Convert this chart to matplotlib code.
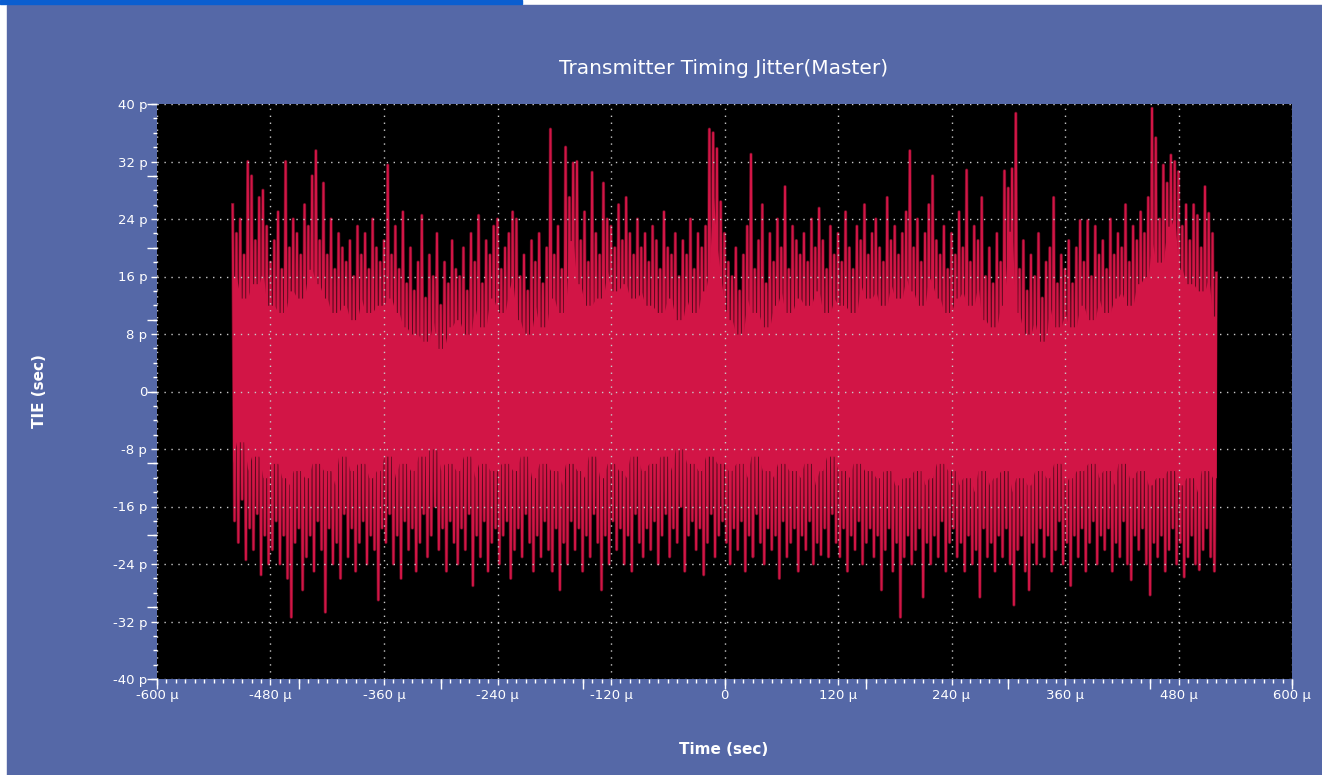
import matplotlib
matplotlib.use('Agg')
import matplotlib.pyplot as plt
import matplotlib.patheffects as pe
from matplotlib.patches import Rectangle
from matplotlib.ticker import MultipleLocator, FuncFormatter
import numpy as np

# TIE record: a high and a low sample every 4 us, from -520 us to +520 us
t_first, t_step = -520, 4

# local maxima of the trace (ps)
peak_hi = [
    26, 22, 24, 19, 32, 30, 21, 27, 28, 23,
    18, 21, 25, 17, 32, 20, 24, 22, 19, 26,
    23, 30, 33.5, 21, 29, 19, 24, 17, 22, 20,
    18, 21, 16, 23, 19, 22, 17, 24, 20, 18,
    21, 31.5, 19, 23, 17, 25, 15, 20, 14, 18,
    24.5, 13, 19, 16, 22, 12, 18, 15, 21, 17,
    16, 20, 14, 22, 18, 24.5, 15, 21, 19, 23,
    24, 17, 20, 22, 25, 24, 16, 19, 14, 21,
    18, 22, 15, 20, 36.5, 19, 23, 17, 34, 27,
    31.8, 32, 21, 25, 18, 30.5, 22, 19, 29, 24,
    23, 20, 26, 21, 27, 22, 19, 24, 20, 22,
    18, 23, 21, 17, 25, 20, 19, 22, 16, 21,
    19, 24, 17, 22, 20, 23, 36.5, 36, 33.8, 26.4,
    22, 18, 16, 20, 14, 19, 23, 33, 17, 21,
    26, 15, 22, 18, 24, 20, 28.5, 17, 23, 21,
    19, 22, 18, 24, 20, 25.5, 21, 17, 23, 19,
    22, 18, 25, 20, 17, 23, 21, 26, 19, 22,
    24, 20, 18, 27, 21, 23, 19, 22, 25, 33.5,
    20, 24, 18, 22, 26, 30, 21, 19, 23, 17,
    22, 19, 25, 20, 30.8, 18, 23, 21, 27, 16,
    20, 15, 22, 18, 30.7, 28.3, 31, 38.7, 17, 21,
    14, 19, 16, 22, 13, 18, 20, 27, 15, 19,
    17, 21, 15, 20, 23.8, 18, 23.8, 16, 23, 19,
    21, 17, 24, 19, 22, 20, 26, 18, 23, 21,
    25, 22, 27, 39.4, 35.3, 24, 31.5, 29, 32.9, 32,
    30.6, 23, 26, 21, 26, 24.5, 20, 28.5, 24.8, 22,
    16.5,
]

# local minima of the trace (ps)
peak_lo = [
    -18, -21, -15, -23.4, -19, -22, -17, -25.5, -20, -24,
    -22, -18, -24, -20, -26, -31.4, -21, -19, -27.6, -23,
    -20, -25, -18, -22, -30.7, -19, -24, -21, -26, -17,
    -23, -19, -25, -21, -18, -24, -20, -22, -29, -19,
    -21, -17, -24, -20, -26, -18, -22, -19, -25, -21,
    -17, -23, -20, -16, -22, -19, -25, -18, -21, -24,
    -19, -22, -17, -27, -20, -23, -18, -25, -21, -19,
    -24, -20, -18, -26, -22, -19, -23, -17, -21, -25,
    -20, -23, -18, -22, -25, -19, -27.6, -21, -24, -18,
    -22, -19, -25, -20, -23, -17, -21, -27.6, -20, -24,
    -18, -22, -19, -24, -20, -25, -17, -21, -23, -19,
    -22, -18, -24, -20, -17, -23, -19, -21, -16, -25,
    -20, -18, -22, -19, -25.5, -21, -17, -23, -20, -18,
    -21, -24, -19, -22, -18, -25, -20, -23, -17, -21,
    -24, -19, -22, -20, -26, -18, -23, -21, -19, -25,
    -20, -22, -18, -24, -21, -22.7, -19, -23, -17, -21,
    -23, -19, -25, -20, -22, -18, -24, -21, -19, -23,
    -20, -27.6, -22, -19, -25, -21, -31.4, -23, -20, -24,
    -22, -19, -28.6, -21, -24, -20, -23, -18, -25, -21,
    -19, -23, -21, -25, -20, -24, -22, -28.6, -19, -23,
    -21, -25, -20, -23, -19, -24, -29.7, -22, -20, -25,
    -27.6, -21, -24, -19, -23, -20, -25, -22, -18, -24,
    -21, -27, -20, -23, -19, -25, -21, -18, -24, -20,
    -22, -19, -25, -21, -23, -18, -24, -26.2, -20, -22,
    -19, -24, -28.3, -21, -23, -20, -25, -22, -19, -24,
    -21, -25.8, -23, -20, -24, -24.8, -22, -19, -23, -25,
    -20,
]

W, H = 1322, 775
BG = '#5568A7'
TRACE = '#D21546'

fig = plt.figure(figsize=(W / 100, H / 100), dpi=100, facecolor='white')
# window frame: slate panel + blue tab strip on top
fig.patches.append(Rectangle((7 / W, 0), 1 - 7 / W, (H - 5) / H,
                             transform=fig.transFigure, color=BG, zorder=-2))
fig.patches.append(Rectangle((0, (H - 4) / H), 522 / W, 4 / H,
                             transform=fig.transFigure, color='#0B5ED0', zorder=-2))

ax = fig.add_axes([157 / W, 1 - 679 / H, (1292 - 157) / W, (679 - 104) / H])
ax.set_facecolor('black')

hi = np.array(peak_hi, dtype=float)
lo = np.array(peak_lo, dtype=float)

# the trace swings hi -> lo -> hi; lows sit half a step after each high
t_hi = t_first + t_step * np.arange(len(hi))
t_lo = t_hi + t_step / 2
tt = np.column_stack([t_hi, t_lo]).ravel()[:-1]
yy = np.column_stack([hi, lo]).ravel()[:-1]
ax.plot(tt, yy, color=TRACE, linewidth=1.4, zorder=1,
        path_effects=[pe.Stroke(linewidth=2.4, foreground='#5c0a1e'), pe.Normal()])

# the densely overdrawn body: solid where neighbouring swings all cross it
win = 3
pad = win // 2
hi_p = np.pad(hi, pad, mode='edge')
lo_p = np.pad(lo, pad, mode='edge')
body_top = np.lib.stride_tricks.sliding_window_view(hi_p, win).min(axis=1) - 6
body_bot = np.lib.stride_tricks.sliding_window_view(lo_p, win).max(axis=1) + 8
ax.fill_between(t_hi, body_bot, body_top, color=TRACE, linewidth=0, zorder=1.5)

ax.set_xlim(-600, 600)
ax.set_ylim(-40, 40)

fmt_p = FuncFormatter(lambda v, _: '0' if abs(v) < 1e-9 else f'{int(round(v))} p')
fmt_u = FuncFormatter(lambda v, _: '0' if abs(v) < 1e-9 else f'{int(round(v))} \u03bc')
ax.xaxis.set_major_locator(MultipleLocator(120))
ax.xaxis.set_minor_locator(MultipleLocator(10))
ax.yaxis.set_major_locator(MultipleLocator(8))
ax.yaxis.set_minor_locator(MultipleLocator(2))
ax.xaxis.set_major_formatter(fmt_u)
ax.yaxis.set_major_formatter(fmt_p)
ax.tick_params(which='both', colors='white', direction='out')
ax.tick_params(which='major', length=4, width=1, labelsize=9.5, pad=3)
ax.tick_params(which='minor', length=3, width=1)
for s in ax.spines.values():
    s.set_visible(False)

ax.set_axisbelow(False)
ax.grid(True, which='major', color='#c8c8c8', linestyle=(0, (1, 4)), linewidth=1)

# taller ticks every 150 us / 10 ps
sx = ax.secondary_xaxis('bottom')
sx.set_xticks(np.arange(-600, 601, 150))
sx.tick_params(length=7, width=1, colors='white', labelbottom=False)
sx.spines['bottom'].set_visible(False)
sy = ax.secondary_yaxis('left')
sy.set_yticks(np.arange(-40, 41, 10))
sy.tick_params(length=7, width=1, colors='white', labelleft=False)
sy.spines['left'].set_visible(False)

fig.text(724 / W, 1 - 68 / H, 'Transmitter Timing Jitter(Master)', color='white',
         fontsize=14.5, ha='center', va='center')
fig.text(40 / W, 1 - 391 / H, 'TIE (sec)', color='white', fontsize=11,
         fontweight='bold', rotation=90, ha='center', va='center')
fig.text(724 / W, 1 - 750 / H, 'Time (sec)', color='white', fontsize=11,
         fontweight='bold', ha='center', va='center')

fig.savefig('out.png', dpi=100, facecolor=fig.get_facecolor())
